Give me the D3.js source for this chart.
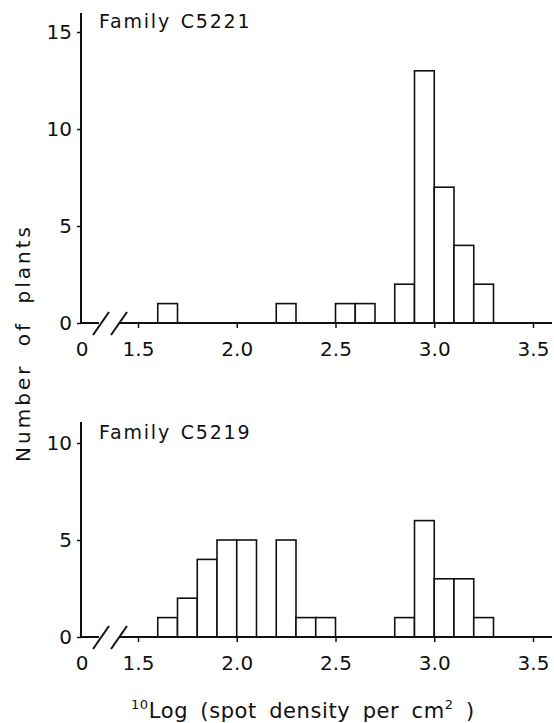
<html><head>
  <script src="https://d3js.org/d3.v7.min.js"></script>
  <style>
    body { margin: 0; background: #fff; }
    text { font-family: 'DejaVu Sans', Arial, sans-serif; fill: #111; }
  </style>
</head>
<body>
  <script>
    // bins are 0.1 wide, value = left edge of the bin
    const c5221Bins   = [1.6, 2.2, 2.5, 2.6, 2.8, 2.9, 3.0, 3.1, 3.2]
    const c5221Counts = [1, 1, 1, 1, 2, 13, 7, 4, 2]
    const c5219Bins   = [1.6, 1.7, 1.8, 1.9, 2.0, 2.2, 2.3, 2.4, 2.8, 2.9, 3.0, 3.1, 3.2]
    const c5219Counts = [1, 2, 4, 5, 5, 5, 1, 1, 1, 6, 3, 3, 1]
    const binWidth = 0.1

    const xTicks = [1.5, 2.0, 2.5, 3.0, 3.5]
    const topYTicks = [0, 5, 10, 15]
    const bottomYTicks = [0, 5, 10]
    const panelTitles = ["Family C5221", "Family C5219"]

    const svg = d3.select("body").append("svg")
                  .attr("width", 554)
                  .attr("height", 723)

    const axisX0 = 81       // where the broken axis starts
    const axisXEnd = 552
    const x = d3.scaleLinear().domain([1.5, 3.5]).range([138, 533])

    function drawPanel(bins, counts, yMax, yTicks, y0, yTopPx, axisTop, title) {
      const y = d3.scaleLinear().domain([0, yMax]).range([y0, yTopPx])
      const g = svg.append("g")
      const data = bins.map((b, i) => ({x: b, n: counts[i]}))

      // bars
      g.selectAll("rect.bar").data(data)
        .join("rect")
        .attr("class", "bar")
        .attr("x", d => x(d.x))
        .attr("y", d => y(d.n))
        .attr("width", d => x(d.x + binWidth) - x(d.x))
        .attr("height", d => y(0) - y(d.n))
        .style("fill", "white")
        .style("stroke", "#111")
        .style("stroke-width", 1.6)

      // y axis
      const leftAxis = d3.axisLeft(y).tickValues(yTicks).tickSize(4).tickPadding(5).tickFormat(d3.format("d"))
      const ya = g.append("g").attr("transform", `translate(${axisX0},0)`).call(leftAxis)
      ya.select(".domain").remove()
      ya.selectAll("text").style("font-size", "20px").attr("fill", "#111")
      ya.selectAll("line").attr("stroke", "#111").attr("stroke-width", 1.5)
      g.append("line")
        .attr("x1", axisX0).attr("x2", axisX0)
        .attr("y1", axisTop).attr("y2", y0 + 1)
        .attr("stroke", "#111").attr("stroke-width", 2)

      // x axis (broken)
      const bottomAxis = d3.axisBottom(x).tickValues(xTicks).tickSize(5).tickPadding(14).tickFormat(d3.format(".1f"))
      const xa = g.append("g").attr("transform", `translate(0,${y0})`).call(bottomAxis)
      xa.select(".domain").remove()
      xa.selectAll("text").style("font-size", "20px").attr("fill", "#111")
      xa.selectAll("line").attr("stroke", "#111").attr("stroke-width", 1.5)
      g.append("text").attr("x", axisX0 + 1).attr("y", y0 + 19).attr("dy", "0.71em")
        .attr("text-anchor", "middle").style("font-size", "20px").text("0")

      g.append("line").attr("x1", axisX0).attr("x2", 99).attr("y1", y0).attr("y2", y0)
        .attr("stroke", "#111").attr("stroke-width", 2)
      g.append("line").attr("x1", 119).attr("x2", axisXEnd).attr("y1", y0).attr("y2", y0)
        .attr("stroke", "#111").attr("stroke-width", 2)
      ;[101, 119].forEach(cx => {
        g.append("line")
          .attr("x1", cx - 8).attr("y1", y0 + 12)
          .attr("x2", cx + 8).attr("y2", y0 - 11)
          .attr("stroke", "#111").attr("stroke-width", 2)
      })

      // panel title
      g.append("text").attr("x", 99).attr("y", yTopPx - 4)
        .style("font-size", "19px")
        .style("letter-spacing", "1.8px")
        .style("word-spacing", "2px")
        .text(title)
    }

    drawPanel(c5221Bins, c5221Counts, 15, topYTicks, 323, 32, 13, panelTitles[0])
    drawPanel(c5219Bins, c5219Counts, 10, bottomYTicks, 637, 443, 422, panelTitles[1])

    // axis titles
    svg.append("text")
       .attr("transform", "translate(30,343) rotate(-90)")
       .attr("text-anchor", "middle")
       .style("font-size", "20px")
       .style("letter-spacing", "3px")
       .style("word-spacing", "8px")
       .text("Number of plants")

    const xt = svg.append("text").attr("x", 131).attr("y", 718)
                  .style("font-size", "21px")
                  .style("letter-spacing", "0.6px")
                  .style("word-spacing", "5px")
    xt.append("tspan").style("font-size", "13px").attr("dy", -9).text("10")
    xt.append("tspan").attr("dy", 9).text("Log (spot density per cm")
    xt.append("tspan").style("font-size", "13px").attr("dy", -9).text("2")
    xt.append("tspan").attr("dy", 9).text(" )")
  </script>
</body></html>
